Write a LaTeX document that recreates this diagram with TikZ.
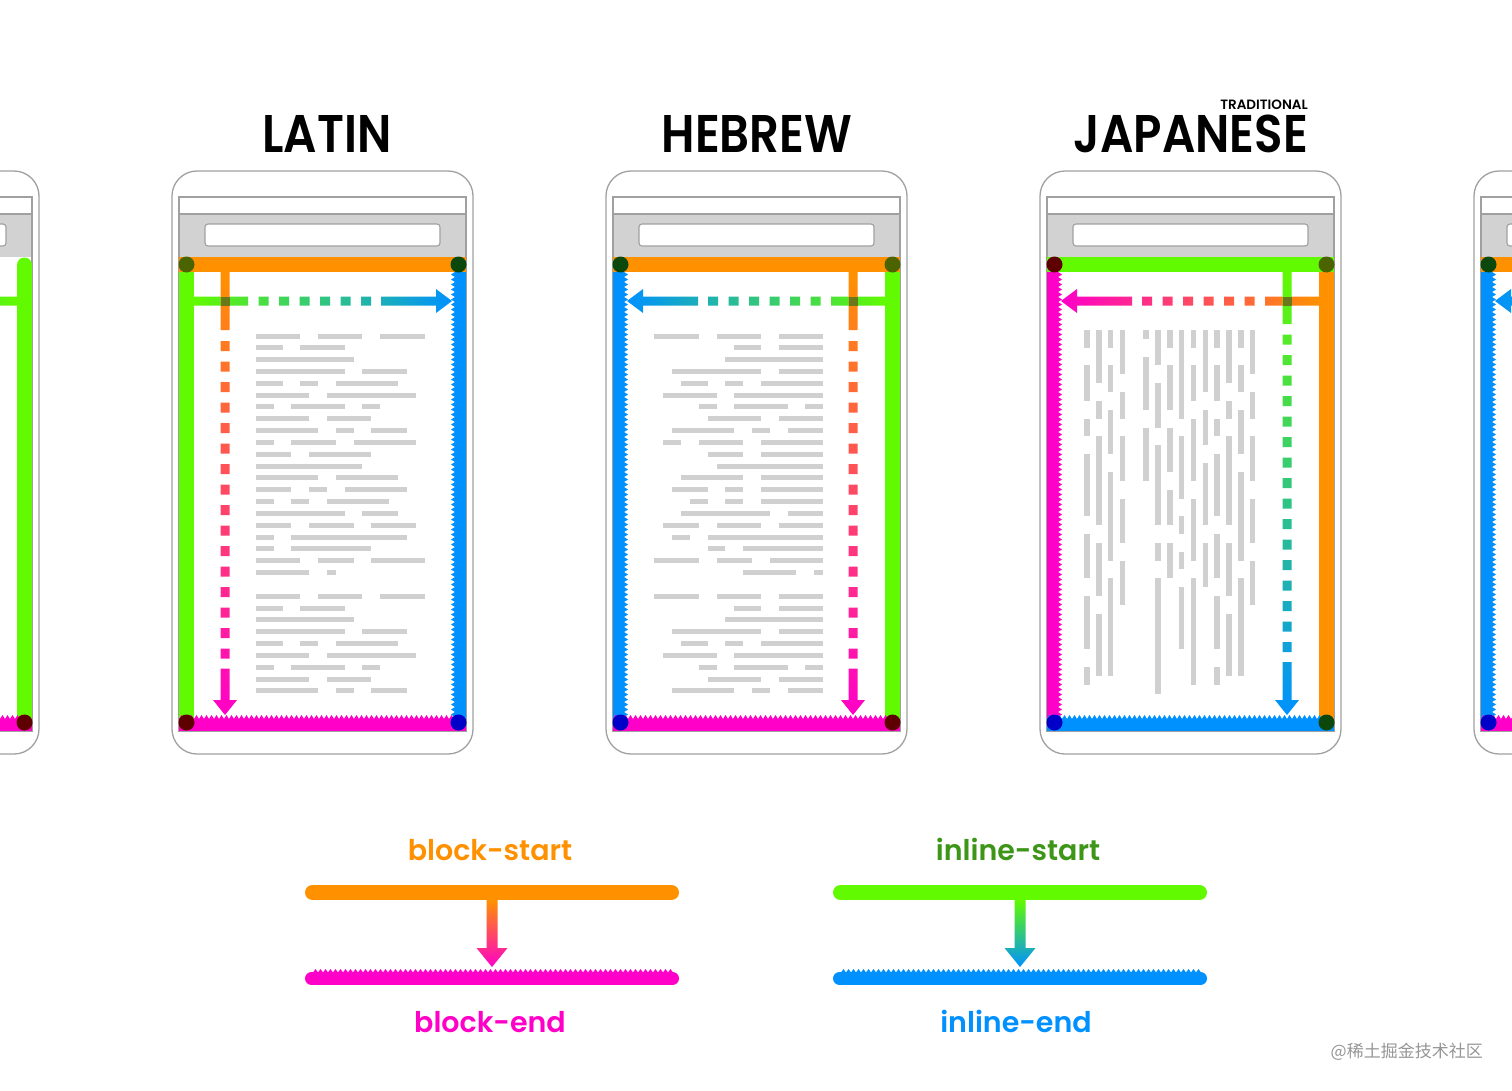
\documentclass[tikz,border=0pt]{standalone}
\usepackage{fontspec}
\setmainfont{Poppins}
\newfontfamily\semib{Poppins SemiBold}
\newfontfamily\cjkfont{Noto Sans CJK SC}
\definecolor{cOr}{RGB}{255,145,0}
\definecolor{cMg}{RGB}{255,0,200}
\definecolor{cGr}{RGB}{98,250,0}
\definecolor{cBl}{RGB}{0,145,255}
\definecolor{cGrT}{RGB}{62,150,25}
\definecolor{dOl}{RGB}{76,100,0}
\definecolor{dGr}{RGB}{12,72,12}
\definecolor{dMa}{RGB}{95,0,0}
\definecolor{dBl}{RGB}{0,0,200}
\definecolor{cCross}{RGB}{105,120,25}
\definecolor{txtg}{RGB}{208,208,208}
\definecolor{barg}{RGB}{210,210,210}
\definecolor{frm}{RGB}{160,160,160}
\definecolor{wm}{RGB}{150,150,150}

% phone frame, L = left x
\newcommand\phoneframe[1]{%
  \draw[frm, line width=1.3, fill=white, rounded corners=25] (#1,171) rectangle (#1+301,754);
  \fill[barg] (#1+7,214) rectangle (#1+294,257);
  \draw[frm, line width=1.1] (#1+7,197) rectangle (#1+294,731);
  \draw[frm, line width=1.1] (#1+7,214) -- (#1+294,214);
  \draw[frm, line width=1.1, fill=white, rounded corners=3] (#1+33,224) rectangle (#1+268,246);
}
% vertical zigzag bar: color, x base of teeth, tooth dx, outer x
\newcommand\zigV[4]{%
  \fill[#1] (#2,257) rectangle (#4,731);
  \fill[#1] (#2,272) \foreach \i in {1,...,90}{ -- ++(#3,2.5) -- ++({-(#3)},2.5)} -- cycle;
}
% horizontal bottom zigzag bar: color, x1, x2, teeth count
\newcommand\zigH[4]{%
  \fill[#1] (#2,719) rectangle (#3,731);
  \fill[#1] (#2,719) \foreach \i in {1,...,#4}{ -- ++(2.5,-4) -- ++(2.5,4)} -- cycle;
}
% dashed arrow left to right
\newcommand\arrLR[3]{%
  \shade[left color=#2,right color=#3] (#1+22,296.5) rectangle (#1+76,305.5)
    \foreach \i in {0,...,5}{ (#1+86.5+20.5*\i,296.5) rectangle ++(10,9) }
    (#1+209,296.5) rectangle (#1+264,305.5)
    (#1+264,289) -- (#1+280,301) -- (#1+264,313) -- cycle;
}
% dashed arrow right to left
\newcommand\arrRL[3]{%
  \shade[left color=#3,right color=#2] (#1+225,296.5) rectangle (#1+279,305.5)
    \foreach \i in {0,...,5}{ (#1+214.5-20.5*\i,296.5) rectangle ++(-10,9) }
    (#1+37,296.5) rectangle (#1+92,305.5)
    (#1+37,289) -- (#1+21,301) -- (#1+37,313) -- cycle;
}
% dashed arrow top to bottom: x, c1, c2, solid end, dash start
\newcommand\arrTB[5]{%
  \shade[top color=#2,bottom color=#3] (#1-4.5,272) rectangle (#1+4.5,#4)
    \foreach \i in {0,...,15}{ (#1-4.5,#5+20.5*\i) rectangle ++(9,10) }
    (#1-4.5,#5+327.5) rectangle (#1+4.5,700)
    (#1-12,700) -- (#1,715) -- (#1+12,700) -- cycle;
  \fill[cCross] (#1-4.5,296.5) rectangle (#1+4.5,305.5);
}
\newcommand\cornerdots[5]{% L, TL, TR, BL, BR
  \fill[#2] (#1+14.5,264.5) circle (8);
  \fill[#3] (#1+286.5,264.5) circle (8);
  \fill[#4] (#1+14.5,722.5) circle (8);
  \fill[#5] (#1+286.5,722.5) circle (8);
}
\newcommand\hebrewset[1]{%
  \zigV{cBl}{#1+18}{4}{#1+7}
  \fill[cGr] (#1+279,257) rectangle (#1+294,731);
  \fill[cOr] (#1+7,257) rectangle (#1+294,272);
  \zigH{cMg}{#1+7}{#1+294}{57}
  \arrRL{#1}{cGr}{cBl}
  \arrTB{#1+247}{cOr}{cMg}{330}{341}
  \cornerdots{#1}{dGr}{dOl}{dBl}{dMa}
}
\newcommand\latinlines{0/19/{0/5,7/12,14/19},1/10/{0/3,5/10},2/11/{0/11},3/17/{0/10,12/17},4/16/{0/3,5/7,9/16},5/18/{0/6,8/18},6/14/{0/2,4/10,12/14},7/13/{0/6,8/13},8/17/{0/7,9/11,13/17},9/18/{0/2,4/9,11/18},10/13/{0/4,6/13},11/12/{0/12},12/16/{0/7,9/16},13/17/{0/4,6/8,10/17},14/15/{0/2,4/6,8/15},15/16/{0/10,12/16},16/18/{0/4,6/11,13/18},17/17/{0/2,4/17},18/13/{0/2,4/13},19/19/{0/5,7/11,13/19},20/9/{0/6,8/9},22/19/{0/5,7/12,14/19},23/10/{0/3,5/10},24/11/{0/11},25/17/{0/10,12/17},26/16/{0/3,5/7,9/16},27/18/{0/6,8/18},28/14/{0/2,4/10,12/14},29/13/{0/6,8/13},30/17/{0/7,9/11,13/17}}
\newcommand\jpcols{0/{0/2,4/8,10/12,14/21,23/28,30/36,38/40},1/{0/6,8/10,12/22,24/30,32/39},2/{0/2,4/7,9/14,16/26,28/39},3/{0/5,7/10,12/17,19/24,26/31},5/{0/1,3/9,11/17},6/{0/4,6/11,13/22,24/26,28/41},7/{0/2,4/9,11/16,18/22,24/28},8/{0/10,12/19,21/23,25/27,29/36},9/{0/2,4/8,10/17,19/26,28/40},10/{0/7,9/13,15/22,24/29},11/{0/2,4/8,10/12,14/21,23/28,30/36,38/40},12/{0/6,8/10,12/22,24/30,32/39},13/{0/2,4/7,9/14,16/26,28/39},14/{0/5,7/10,12/17,19/24,26/31}}

\tikzset{
  title/.style={font=\semib\fontsize{53}{53}\selectfont, anchor=base, inner sep=0pt},
  legtext/.style={font=\semib\fontsize{28.5}{28.5}\selectfont, anchor=base, inner sep=0pt},
}

\begin{document}
\begin{tikzpicture}[x=1pt,y=-1pt]
\useasboundingbox (0,0) rectangle (1512,1090);
\clip (0,0) rectangle (1512,1090);
\fill[white] (0,0) rectangle (1512,1090);

% ---------- left partial phone ----------
\phoneframe{-262}
\draw[cGr, line width=15, line cap=round] (24.5,265) -- (24.5,722);
\zigH{cMg}{-255}{32}{57}
\arrRL{-262}{cGr}{cBl}
\fill[dMa] (24.5,722.5) circle (8);

% ---------- LATIN ----------
\phoneframe{172}
\foreach \k/\e/\w in \latinlines {
  \foreach \a/\b in \w {
    \fill[txtg] (256+8.87*\a,333.5+11.83*\k) rectangle (256+8.87*\b,338.5+11.83*\k);
  }
}
\fill[cGr] (179,257) rectangle (194,731);
\zigV{cBl}{455}{-4}{466}
\fill[cOr] (179,257) rectangle (466,272);
\zigH{cMg}{179}{466}{57}
\arrLR{172}{cGr}{cBl}
\arrTB{225}{cOr}{cMg}{330}{341}
\cornerdots{172}{dOl}{dGr}{dMa}{dBl}

% ---------- HEBREW ----------
\phoneframe{606}
\foreach \k/\e/\w in \latinlines {
  \foreach \a/\b in \w {
    \fill[txtg] (823-8.87*\e+8.87*\a,333.5+11.83*\k) rectangle (823-8.87*\e+8.87*\b,338.5+11.83*\k);
  }
}
\hebrewset{606}

% ---------- JAPANESE ----------
\phoneframe{1040}
\foreach \c/\w in \jpcols {
  \foreach \a/\b in \w {
    \fill[txtg] (1087+11.83*\c-2.7,330+8.87*\a) rectangle (1087+11.83*\c+2.7,330+8.87*\b);
  }
}
\zigV{cMg}{1058}{4}{1047}
\fill[cOr] (1319,257) rectangle (1334,731);
\fill[cGr] (1047,257) rectangle (1334,272);
\zigH{cBl}{1047}{1334}{57}
\arrRL{1040}{cOr}{cMg}
\arrTB{1287}{cGr}{cBl}{324}{334.5}
\cornerdots{1040}{dMa}{dOl}{dBl}{dGr}

% ---------- right partial phone ----------
\phoneframe{1474}
\hebrewset{1474}

% ---------- titles ----------
\node[title] (tLatin) at (327,152) {\scalebox{0.88}[1]{LATIN}};
\node[title] (tHebrew) at (757,152) {\scalebox{0.88}[1]{HEBREW}};
\node[title, anchor=base east] (tJapanese) at (1308,152) {\scalebox{0.88}[1]{JAPANESE}};
\node[font=\semib\fontsize{13.5}{13.5}\selectfont, anchor=base east, inner sep=0pt] (tTrad) at (1308,109) {TRADITIONAL};

% ---------- legend: block ----------
\draw[cOr, line width=15, line cap=round] (312.5,892.5) -- (671.5,892.5);
\draw[cMg, line width=13, line cap=round] (311.5,978.5) -- (672.5,978.5);
\fill[cMg] (313,972.5) \foreach \i in {1,...,72}{ -- ++(2.5,-3.5) -- ++(2.5,3.5)} -- cycle;
\shade[top color=cOr, bottom color=cMg] (486.5,900) rectangle (497.5,948)
  (476.5,948) -- (492,967) -- (507.5,948) -- cycle;
\node[legtext, text=cOr] (lbs) at (490,860) {block-start};
\node[legtext, text=cMg] (lbe) at (490,1032) {block-end};

% ---------- legend: inline ----------
\draw[cGr, line width=15, line cap=round] (840.5,892.5) -- (1199.5,892.5);
\draw[cBl, line width=13, line cap=round] (839.5,978.5) -- (1200.5,978.5);
\fill[cBl] (841,972.5) \foreach \i in {1,...,72}{ -- ++(2.5,-3.5) -- ++(2.5,3.5)} -- cycle;
\shade[top color=cGr, bottom color=cBl] (1014.5,900) rectangle (1025.5,948)
  (1004.5,948) -- (1020,967) -- (1035.5,948) -- cycle;
\node[legtext, text=cGrT] (lis) at (1018,860) {inline-start};
\node[legtext, text=cBl] (lie) at (1016,1032) {inline-end};

% ---------- watermark ----------
\node[font=\cjkfont\fontsize{17}{17}\selectfont, text=wm, anchor=base east, inner sep=0pt] (wmark) at (1483,1057) {@稀土掘金技术社区};
\end{tikzpicture}
\end{document}
